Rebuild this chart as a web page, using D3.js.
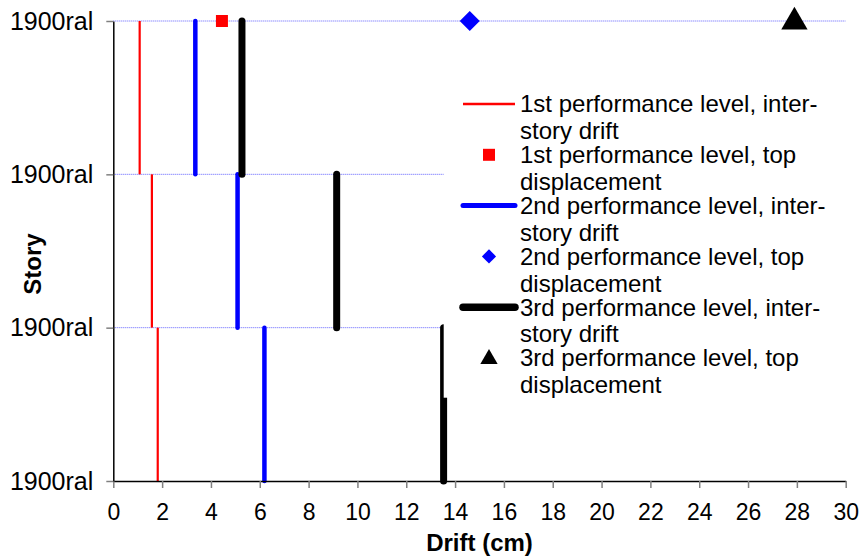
<!DOCTYPE html>
<html>
<head>
<meta charset="utf-8">
<script src="https://cdn.jsdelivr.net/npm/d3@7"></script>
<style>
  body { margin: 0; background: #fff; }
  text { font-family: "Liberation Sans", Arial, sans-serif; }
</style>
</head>
<body>
<svg id="chart" width="861" height="556"></svg>
<script>
// stories, bottom to top (segment i goes from level i to level i+1)
const storyLevels = [0, 1, 2, 3];
const storyLabels = ['1900ral', '1900ral', '1900ral', '1900ral'];
const xTicks = d3.range(0, 31, 2);

// inter-story drift per story (cm), bottom story first
const drift1 = [1.82, 1.58, 1.08];
const drift2 = [6.19, 5.09, 3.36];
const drift3 = [13.53, 9.15, 5.27];

// top displacement (cm)
const topDisp = [4.45, 14.6, 27.9];

const legendLabels = [
    ['1st performance level, inter-', 'story drift'],
    ['1st performance level, top', 'displacement'],
    ['2nd performance level, inter-', 'story drift'],
    ['2nd performance level, top', 'displacement'],
    ['3rd performance level, inter-', 'story drift'],
    ['3rd performance level, top', 'displacement']
];

const svg = d3.select('#chart');

var x = d3.scaleLinear()
    .domain([0, 30])
    .range([113.3, 845.7]);

var y = d3.scaleLinear()
    .domain([0, 3])
    .range([481, 21]);

// gridlines at story levels
svg.append('g')
    .selectAll('line')
    .data(storyLevels.slice(1))
    .enter()
    .append('line')
        .attr('x1', x(0))
        .attr('x2', x(30))
        .attr('y1', d => y(d))
        .attr('y2', d => y(d))
        .attr('stroke', '#2b2bff')
        .attr('stroke-opacity', 0.75)
        .attr('stroke-width', 1)
        .attr('stroke-dasharray', '1,1');

// drift segments
const series = [
    { data: drift1, color: '#ff0000', width: 2.2, cap: 'butt' },
    { data: drift2, color: '#0000ff', width: 4.5, cap: 'round' },
    { data: drift3, color: '#000000', width: 7, cap: 'round' }
];

series.forEach(s => {
    svg.append('g')
        .selectAll('line')
        .data(s.data)
        .enter()
        .append('line')
            .attr('x1', d => x(d))
            .attr('x2', d => x(d))
            .attr('y1', (d, i) => y(i))
            .attr('y2', (d, i) => y(i + 1))
            .attr('stroke', s.color)
            .attr('stroke-width', s.width)
            .attr('stroke-linecap', s.cap);
});

// legend box (white, covers the plot behind it)
const legend = svg.append('g');
legend.append('rect')
    .attr('x', 443.7)
    .attr('y', 86)
    .attr('width', 846 - 443.7)
    .attr('height', 397.7 - 86)
    .attr('fill', '#fff');

const legY0 = 104, legStep = 50.8, lineGap = 26.7;

legendLabels.forEach((lab, i) => {
    legend.append('text')
        .attr('x', 520)
        .attr('y', legY0 + i * legStep)
        .attr('font-size', 24)
        .attr('fill', '#000')
        .selectAll('tspan')
        .data(lab)
        .enter()
        .append('tspan')
            .attr('x', 520)
            .attr('dy', (d, j) => j == 0 ? '0.35em' : lineGap)
            .text(d => d);
});

// legend line samples
[0, 2, 4].forEach((k, j) => {
    const s = series[j];
    legend.append('line')
        .attr('x1', 463)
        .attr('x2', 515)
        .attr('y1', legY0 + k * legStep)
        .attr('y2', legY0 + k * legStep)
        .attr('stroke', s.color)
        .attr('stroke-width', s.width + 0.5)
        .attr('stroke-linecap', s.cap);
});

// markers: square, diamond (square turned 45deg), triangle
const sym = [
    { type: d3.symbolSquare, color: '#ff0000', size: 144, legSize: 144, rot: 0 },
    { type: d3.symbolSquare, color: '#0000ff', size: 200, legSize: 100, rot: 45 },
    { type: d3.symbolTriangle, color: '#000000', size: 300, legSize: 130, rot: 0 }
];

sym.forEach((s, j) => {
    legend.append('path')
        .attr('d', d3.symbol().type(s.type).size(s.legSize))
        .attr('transform', 'translate(489,' + (legY0 + (2 * j + 1) * legStep + (j == 2 ? 1 : 0)) + ') rotate(' + s.rot + ')')
        .attr('fill', s.color);
});

svg.append('g')
    .selectAll('path')
    .data(topDisp)
    .enter()
    .append('path')
        .attr('d', (d, i) => d3.symbol().type(sym[i].type).size(sym[i].size)())
        .attr('transform', (d, i) => 'translate(' + x(d) + ',' + (y(3) + (i == 2 ? 1 : 0)) + ') rotate(' + sym[i].rot + ')')
        .attr('fill', (d, i) => sym[i].color);

// axes
const xAxis = svg.append('g')
    .attr('transform', 'translate(0,' + y(0) + ')')
    .call(d3.axisBottom(x).tickValues(xTicks).tickSize(7).tickSizeOuter(0).tickPadding(16));
xAxis.select('.domain').attr('stroke', '#000').attr('stroke-width', 1.5);
xAxis.selectAll('.tick line').attr('stroke', '#808080').attr('stroke-width', 1.5);
xAxis.selectAll('.tick text')
    .attr('font-size', 23)
    .attr('font-family', '"Liberation Sans", Arial, sans-serif')
    .attr('fill', '#000');

const yAxis = svg.append('g')
    .attr('transform', 'translate(' + x(0) + ',0)')
    .call(d3.axisLeft(y).tickValues(storyLevels).tickFormat((d, i) => storyLabels[i]).tickSize(7).tickSizeOuter(0).tickPadding(13));
yAxis.select('.domain').attr('stroke', '#000').attr('stroke-width', 1.5);
yAxis.selectAll('.tick line').attr('stroke', '#808080').attr('stroke-width', 1.5);
yAxis.selectAll('.tick text')
    .attr('font-size', 25)
    .attr('font-family', '"Liberation Sans", Arial, sans-serif')
    .attr('fill', '#000');

// axis titles
svg.append('text')
    .attr('x', (x(0) + x(30)) / 2)
    .attr('y', 551)
    .attr('text-anchor', 'middle')
    .attr('font-size', 24)
    .attr('font-weight', 'bold')
    .text('Drift (cm)');

svg.append('text')
    .attr('transform', 'translate(41,264) rotate(-90)')
    .attr('text-anchor', 'middle')
    .attr('font-size', 24)
    .attr('font-weight', 'bold')
    .text('Story');
</script>
</body>
</html>
